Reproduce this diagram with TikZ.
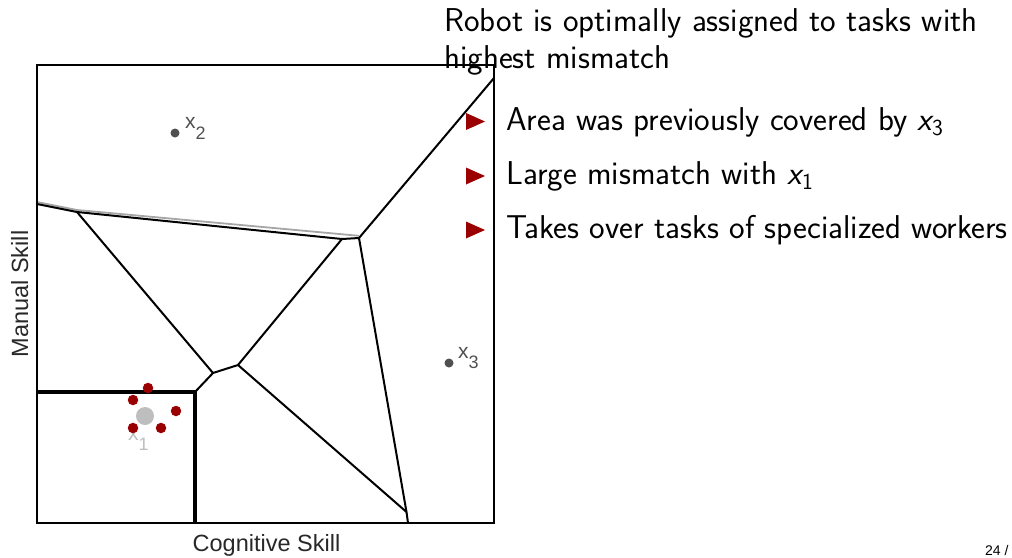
\documentclass[tikz,border=0pt]{standalone}
\usepackage{fontspec}
\newfontfamily\plotfont{Liberation Sans}
\definecolor{bulletred}{RGB}{155,0,0}
\definecolor{sitegray}{RGB}{80,80,80}
\definecolor{lightsite}{RGB}{190,190,190}
\definecolor{axisgray}{RGB}{40,40,40}
\begin{document}
\begin{tikzpicture}[x=1pt,y=-1pt,
  cell/.style={line width=2pt, black, line join=round},
  boldcell/.style={line width=3.2pt, black},
  site/.style={circle, fill=sitegray, inner sep=0pt, minimum size=9pt},
  worker/.style={circle, fill=bulletred, inner sep=0pt, minimum size=10.5pt},
  sitelabel/.style={font=\plotfont\fontsize{21}{21}\selectfont, text=sitegray, inner sep=0pt, anchor=base west},
  axislabel/.style={font=\plotfont\fontsize{23.5}{24}\selectfont, text=axisgray, inner sep=0pt, anchor=base},
  body/.style={font=\sffamily\fontsize{33}{36}\selectfont, inner sep=0pt, anchor=base west},
  bulletmark/.style={fill=bulletred}]
\useasboundingbox (0,0) rectangle (1012,557);

% frame corners
\coordinate (tl) at (37,65);
\coordinate (br) at (494,523);

% Voronoi vertices
\coordinate (vA) at (37,204);
\coordinate (vB) at (77,212);
\coordinate (vC) at (342,239);
\coordinate (vD) at (359,238);
\coordinate (vE) at (494,78);
\coordinate (vG) at (406.5,512);
\coordinate (vH) at (408,523);
\coordinate (vI) at (213,373);
\coordinate (vJ) at (238,365);
\coordinate (vK) at (195,392);
\coordinate (vL) at (37,392);
\coordinate (vM) at (195,523);

% soft grey duplicate below the upper boundary
\draw[line width=1.8pt, black!35] ([yshift=2pt]vA) -- ([yshift=2pt]vB) -- ([yshift=2.2pt]vD);

% cell boundaries
\draw[cell] (vA) -- (vB) -- (vC) -- (vD) -- (vE);
\draw[cell] (vB) -- (vI) -- (vJ) -- (vC);
\draw[cell] (vD) -- (vG) -- (vH);
\draw[cell] (vJ) -- (vG);
\draw[cell] (vI) -- (vK);
\draw[boldcell] (vL) -- (vK) -- (vM);

% frame
\draw[line width=2pt] (tl) rectangle (br);

% sites
\node[site] (x2) at (175,133) {};
\node[sitelabel] (x2l) at (185,128) {x\raisebox{-11pt}{\fontsize{18}{18}\selectfont 2}};
\node[site] (x3) at (449,363) {};
\node[sitelabel] (x3l) at (458,358) {x\raisebox{-10pt}{\fontsize{18}{18}\selectfont 3}};
\node[sitelabel, text=lightsite] (x1l) at (128,440) {x\raisebox{-10pt}{\fontsize{18}{18}\selectfont 1}};
\node[circle, fill=lightsite, inner sep=0pt, minimum size=18pt] (x1) at (145,416) {};

% workers around x1
\node[worker] (w1) at (148,388) {};
\node[worker] (w2) at (133,400) {};
\node[worker] (w3) at (176,411) {};
\node[worker] (w4) at (133,428) {};
\node[worker] (w5) at (161,428) {};

% axis labels
\node[axislabel] (xlab) at (266.5,551) {Cognitive Skill};
\node[axislabel, rotate=90] (ylab) at (28,294) {Manual Skill};

% text
\node[body] (t1) at (444,31) {Robot is optimally assigned to tasks with};
\node[body] (t2) at (444,68) {highest mismatch};
\fill[bulletmark] (466,113) -- (485,121.5) -- (466,130) -- cycle;
\fill[bulletmark] (466,167.5) -- (485,176) -- (466,184.5) -- cycle;
\fill[bulletmark] (466,221.5) -- (485,230) -- (466,238.5) -- cycle;
\node[body] (b1) at (506,130.5) {Area was previously covered by {\itshape x}\raisebox{-5pt}{\fontsize{23}{23}\selectfont 3}};
\node[body] (b2) at (506,184.5) {Large mismatch with {\itshape x}\raisebox{-5pt}{\fontsize{23}{23}\selectfont 1}};
\node[body] (b3) at (506,238.5) {Takes over tasks of specialized workers};

% page number
\node[font=\plotfont\fontsize{14}{14}\selectfont, inner sep=0pt, anchor=base west] (pg) at (985,555) {24 /};
\end{tikzpicture}
\end{document}
